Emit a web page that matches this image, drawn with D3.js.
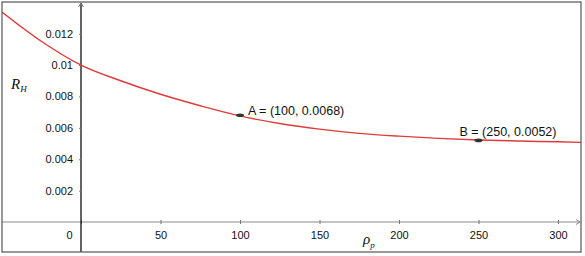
<!DOCTYPE html>
<html>
<head>
<meta charset="utf-8">
<script src="https://cdn.jsdelivr.net/npm/d3@7"></script>
<style>
  body { margin: 0; background: #fff; }
  svg { display: block; font-family: "Liberation Sans", Arial, sans-serif; }
</style>
</head>
<body>
<script>
const rhoValues = [-50, -25, 0, 25, 50, 75, 100, 125, 150, 175, 200, 225, 250, 275, 300, 316];
const rhValues = [0.01340, 0.01152, 0.01000, 0.00900, 0.00814, 0.00741, 0.00676, 0.00628, 0.00592, 0.00565, 0.00547, 0.00533, 0.00523, 0.00516, 0.00511, 0.00507];
const xTicks = [0, 50, 100, 150, 200, 250, 300];
const yTicks = [0.002, 0.004, 0.006, 0.008, 0.01, 0.012];
const points = [
  { name: "A", x: 100, y: 0.0068, label: "A = (100, 0.0068)" },
  { name: "B", x: 250, y: 0.0052, label: "B = (250, 0.0052)" }
];

const width = 585, height = 256;
const frame = { left: 2, top: 2, right: 581, bottom: 252 };

const x = d3.scaleLinear().domain([0, 300]).range([81, 558]);
const y = d3.scaleLinear().domain([0, 0.012]).range([222, 33.7]);

const svg = d3.select("body").append("svg")
  .attr("width", width)
  .attr("height", height);

svg.append("clipPath").attr("id", "clip")
  .append("rect")
  .attr("x", frame.left).attr("y", frame.top)
  .attr("width", frame.right - frame.left)
  .attr("height", frame.bottom - frame.top);

// x axis line + ticks
svg.append("line")
  .attr("x1", frame.left).attr("x2", frame.right - 1)
  .attr("y1", y(0)).attr("y2", y(0))
  .attr("stroke", "#8a8a8a").attr("stroke-width", 1);
svg.append("path")
  .attr("d", `M${frame.right - 5},${y(0) - 2.5}L${frame.right - 1},${y(0)}L${frame.right - 5},${y(0) + 2.5}`)
  .attr("fill", "none").attr("stroke", "#8a8a8a");

const xAxis = svg.append("g")
  .attr("transform", `translate(0,${y(0)})`)
  .call(d3.axisBottom(x).tickValues(xTicks).tickSize(2).tickPadding(7).tickFormat(d3.format("d")));
xAxis.select(".domain").remove();
xAxis.selectAll(".tick line").attr("y1", -2).attr("stroke", "#777");
xAxis.selectAll(".tick text").attr("font-size", 11).attr("fill", "#111")
  .attr("font-family", "Liberation Sans, Arial, sans-serif");
xAxis.selectAll(".tick").filter(d => d === 0).select("text").attr("x", -12);

// y axis
svg.append("line")
  .attr("x1", x(0)).attr("x2", x(0))
  .attr("y1", frame.top + 1).attr("y2", frame.bottom)
  .attr("stroke", "#111").attr("stroke-width", 1.3);
svg.append("path")
  .attr("d", `M${x(0) - 2.5},${frame.top + 5}L${x(0)},${frame.top + 1}L${x(0) + 2.5},${frame.top + 5}`)
  .attr("fill", "none").attr("stroke", "#777");

const yAxis = svg.append("g")
  .attr("transform", `translate(${x(0)},0)`)
  .call(d3.axisLeft(y).tickValues(yTicks).tickSize(2).tickPadding(6).tickFormat(d => String(+d.toFixed(3))));
yAxis.select(".domain").remove();
yAxis.selectAll(".tick line").attr("stroke", "#777");
yAxis.selectAll(".tick text").attr("font-size", 11).attr("fill", "#111")
  .attr("font-family", "Liberation Sans, Arial, sans-serif");

// curve
const curveData = rhoValues.map((r, i) => ({ r: r, v: rhValues[i] }));
svg.append("path")
  .datum(curveData)
  .attr("clip-path", "url(#clip)")
  .attr("fill", "none")
  .attr("stroke", "#e03a3a")
  .attr("stroke-width", 1.4)
  .attr("d", d3.line().x(d => x(d.r)).y(d => y(d.v)).curve(d3.curveMonotoneX));

// points
svg.selectAll(".pt")
  .data(points)
  .enter().append("ellipse")
  .attr("cx", d => x(d.x)).attr("cy", d => y(d.y))
  .attr("rx", 4).attr("ry", 1.8)
  .attr("fill", "#333");

svg.selectAll(".lbl")
  .data(points)
  .enter().append("text")
  .attr("x", d => d.name === "A" ? x(d.x) + 8 : x(d.x) - 19)
  .attr("y", d => d.name === "A" ? y(d.y) + 0 : y(d.y) - 4)
  .attr("font-size", 12.5)
  .attr("fill", "#111")
  .text(d => d.label);

// axis titles
const rh = svg.append("text")
  .attr("x", 11).attr("y", 89)
  .attr("font-family", "Liberation Serif, Times New Roman, serif")
  .attr("font-style", "italic")
  .attr("font-size", 15)
  .attr("fill", "#111");
rh.append("tspan").text("R");
rh.append("tspan").attr("font-size", 9).attr("dy", 3).text("H");

const rp = svg.append("text")
  .attr("x", 363).attr("y", 244)
  .attr("font-family", "Liberation Serif, Times New Roman, serif")
  .attr("font-style", "italic")
  .attr("font-size", 15)
  .attr("fill", "#111");
rp.append("tspan").text("ρ");
rp.append("tspan").attr("font-size", 9).attr("dy", 4).text("p");

// frame
svg.append("rect")
  .attr("x", frame.left).attr("y", frame.top)
  .attr("width", frame.right - frame.left)
  .attr("height", frame.bottom - frame.top)
  .attr("fill", "none")
  .attr("stroke", "#555")
  .attr("stroke-width", 1.2);
</script>
</body>
</html>
